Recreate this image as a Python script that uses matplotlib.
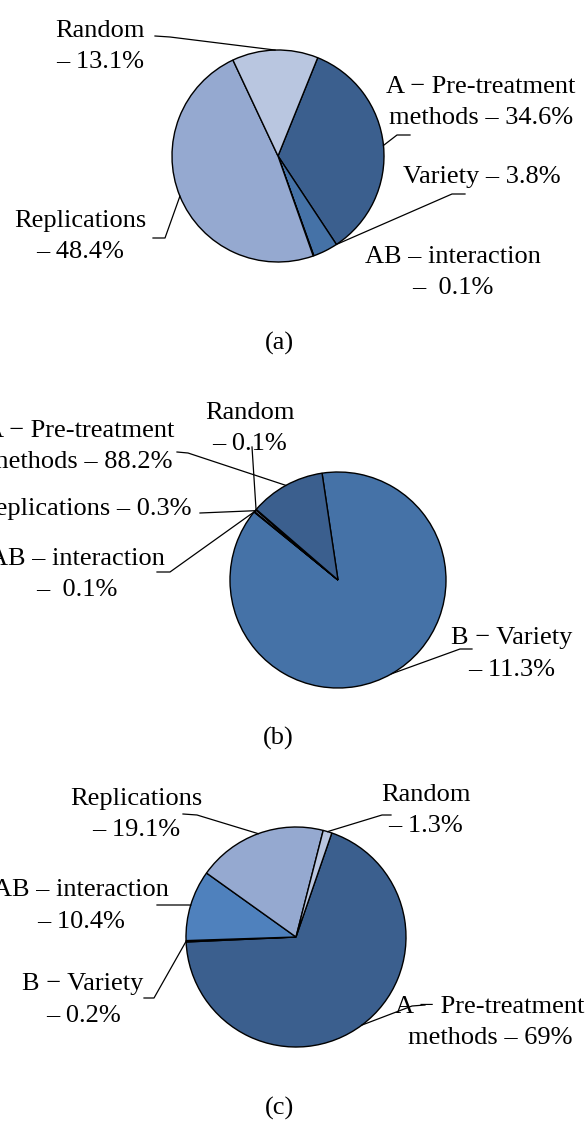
import numpy as np
import matplotlib.pyplot as plt

# (a)
labels_a = ["A − Pre-treatment\nmethods – 34.6%", "Variety – 3.8%",
            "AB – interaction\n–  0.1%", "Replications\n– 48.4%", "Random\n– 13.1%"]
values_a = [34.6, 3.8, 0.1, 48.4, 13.1]

# (b)
labels_b = ["B − Variety\n– 11.3%", "AB – interaction\n–  0.1%",
            "Replications – 0.3%", "Random\n– 0.1%", "A − Pre-treatment\nmethods – 88.2%"]
values_b = [88.2, 0.1, 0.3, 0.1, 11.3]

# (c)
labels_c = ["A − Pre-treatment\nmethods – 69%", "B − Variety\n– 0.2%",
            "AB – interaction\n– 10.4%", "Replications\n– 19.1%", "Random\n– 1.3%"]
values_c = [69, 0.2, 10.4, 19.1, 1.3]

captions = ["(a)", "(b)", "(c)"]

DARK = "#3B5F8E"
MID = "#4572A7"
BRIGHT = "#4F81BD"
LIGHT = "#95A9D0"
PALE = "#B9C6E0"

W, H = 588, 1121
FS = 19
LINE = 31.5

plt.rcParams['font.family'] = ['Liberation Serif', 'DejaVu Serif']
fig = plt.figure(figsize=(W / 100, H / 100), dpi=100)
ax = fig.add_axes([0, 0, 1, 1])


def draw_pie(values, labels, colors, center, radius, start, texts, leaders, fracs):
    cx, cy = center[0], H - center[1]
    wedges, _ = ax.pie(values, colors=colors, startangle=start, counterclock=False,
                       center=(cx, cy), radius=radius,
                       wedgeprops=dict(edgecolor='black', linewidth=1.0))
    for w, lab, (tx, ty, ha), lead, frac in zip(wedges, labels, texts, leaders, fracs):
        for i, line in enumerate(lab.split('\n')):
            ax.text(tx, H - (ty + i * LINE), line, ha=ha, va='baseline', fontsize=FS)
        if lead is None:
            continue
        ang = np.radians(w.theta2 - frac * (w.theta2 - w.theta1))
        ex = cx + radius * np.cos(ang)
        ey = cy + radius * np.sin(ang)
        ax.plot([lead[0][0], lead[1][0], ex], [H - lead[0][1], H - lead[1][1], ey],
                color='black', lw=0.9)


draw_pie(values_a, labels_a, [DARK, MID, BRIGHT, LIGHT, PALE], (278, 156), 106, 68,
         [(481, 93, 'center'), (403, 183, 'left'), (453, 263, 'center'),
          (80, 227, 'center'), (100, 37, 'center')],
         [((410, 135), (397, 135)), ((465, 194), (452, 194)), None,
          ((153, 238), (165, 238)), ((155, 36), (170, 37))],
         [0.5, 0.0, 0.5, 0.5, 0.5])

draw_pie(values_b, labels_b, [MID, BRIGHT, LIGHT, PALE, DARK], (338, 580), 108, 98.5,
         [(512, 644, 'center'), (77, 565, 'center'), (191, 515, 'right'),
          (250, 419, 'center'), (80, 437, 'center')],
         [((472, 649), (460, 649)), ((157, 572), (170, 572)), ((200, 513), (200, 513)),
          ((252, 447), (252, 447)), ((177, 452), (188, 453))],
         [0.5, 0.5, 0.5, 0.5, 0.5])

draw_pie(values_c, labels_c, [DARK, MID, BRIGHT, LIGHT, PALE], (296, 937), 110, 71,
         [(490, 1013, 'center'), (83, 990, 'center'), (81, 896, 'center'),
          (136, 805, 'center'), (426, 801, 'center')],
         [((425, 1005), (412, 1006)), ((144, 998), (154, 998)), ((157, 905), (189, 905)),
          ((183, 814), (197, 815)), ((391, 815), (382, 815))],
         [0.5, 0.5, 0.5, 0.5, 0.5])

for cap, (x, y) in zip(captions, [(279, 350), (278, 745), (279, 1115)]):
    ax.text(x, H - y, cap, ha='center', va='baseline', fontsize=FS)

ax.set_xlim(0, W)
ax.set_ylim(0, H)
ax.set_aspect('auto')
ax.axis('off')

fig.savefig('out.png', dpi=100)
